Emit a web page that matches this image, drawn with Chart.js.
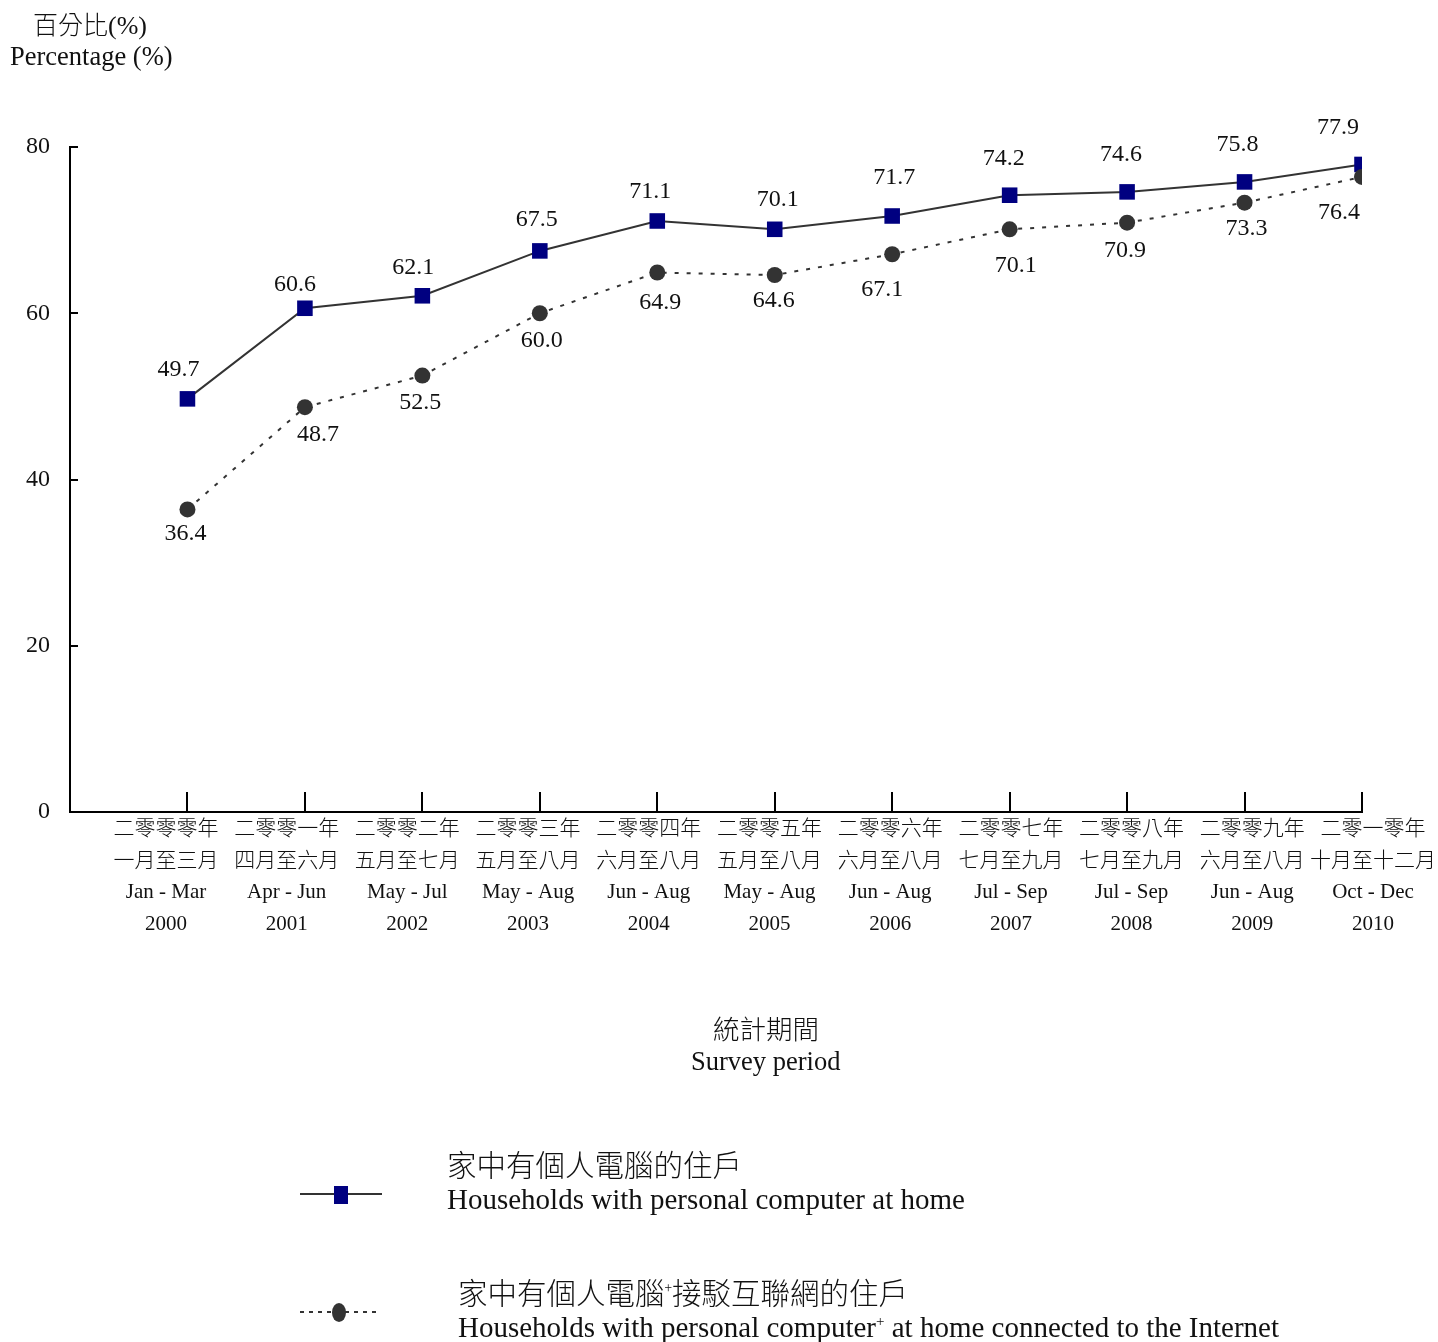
<!DOCTYPE html>
<html>
<head>
<meta charset="utf-8">
<script src="https://cdn.jsdelivr.net/npm/chart.js@4.4.1/dist/chart.umd.min.js"></script>
<style>
  body { margin: 0; background: #fff; }
  #wrap { position: relative; width: 1438px; height: 1342px; overflow: hidden; font-family: "Liberation Serif", "Noto Sans CJK TC", serif; color: #111; }
  #grafico { position: absolute; left: 0; top: 0; }
  .txt { position: absolute; white-space: nowrap; line-height: 1; }
  .zh { font-family: "Noto Sans CJK TC", sans-serif; font-weight: 300; }
  .pontilhado { position: absolute; height: 2px; background: repeating-linear-gradient(to right, #333 0 4px, transparent 4px 9px); }
</style>
</head>
<body>
<div id="wrap">
  <canvas id="grafico" width="1438" height="1342"></canvas>

  <div class="txt zh" style="left:33px;top:11px;font-size:25px;">百分比<span style="font-family:'Liberation Serif';font-weight:400;font-size:26px;">(%)</span></div>
  <div class="txt" style="left:10px;top:43px;font-size:26.5px;">Percentage (%)</div>

  <div class="txt zh" style="left:713px;top:1015px;font-size:26.5px;">統計期間</div>
  <div class="txt" style="left:691px;top:1048px;font-size:26.5px;">Survey period</div>

  <div style="position:absolute;left:300px;top:1193px;width:82px;height:2px;background:#333;"></div>
  <div style="position:absolute;left:334px;top:1186px;width:14px;height:18px;background:#000080;"></div>
  <div class="txt zh" style="left:447px;top:1149px;font-size:29.5px;">家中有個人電腦的住戶</div>
  <div class="txt" style="left:447px;top:1185px;font-size:29px;">Households with personal computer at home</div>

  <div class="pontilhado" style="left:300px;top:1311px;width:78px;"></div>
  <div style="position:absolute;left:332px;top:1303px;width:14px;height:19px;border-radius:50%;background:#333;"></div>
  <div class="txt zh" style="left:458px;top:1277px;font-size:29.5px;">家中有個人電腦<sup style="font-size:14px;">+</sup>接駁互聯網的住戶</div>
  <div class="txt" style="left:458px;top:1313px;font-size:29px;">Households with personal computer<sup style="font-size:15px;">+</sup> at home connected to the Internet</div>
</div>

<script>
const ctx = document.getElementById('grafico');

    // periodo do levantamento (4 linhas por rotulo)
    let anoZh = ["二零零零年", "二零零一年", "二零零二年", "二零零三年", "二零零四年", "二零零五年", "二零零六年", "二零零七年", "二零零八年", "二零零九年", "二零一零年"]
    let mesesZh = ["一月至三月", "四月至六月", "五月至七月", "五月至八月", "六月至八月", "五月至八月", "六月至八月", "七月至九月", "七月至九月", "六月至八月", "十月至十二月"]
    let mesesEn = ["Jan - Mar", "Apr - Jun", "May - Jul", "May - Aug", "Jun - Aug", "May - Aug", "Jun - Aug", "Jul - Sep", "Jul - Sep", "Jun - Aug", "Oct - Dec"]
    let ano = ["2000", "2001", "2002", "2003", "2004", "2005", "2006", "2007", "2008", "2009", "2010"]

    let comComputador = [49.7, 60.6, 62.1, 67.5, 71.1, 70.1, 71.7, 74.2, 74.6, 75.8, 77.9]
    let comInternet = [36.4, 48.7, 52.5, 60.0, 64.9, 64.6, 67.1, 70.1, 70.9, 73.3, 76.4]
    let yTicks = [0, 20, 40, 60, 80]

    // deslocamento dos rotulos de valor (px)
    let rotulo1 = { dx: [-9, -10, -9, -3, -7, 3, 2, -6, -6, -7, -24], dy: [-29, -24, -28, -31, -29, -30, -38, -37, -37, -37, -37] }
    let rotulo2 = { dx: [-2, 13, -2, 2, 3, -1, -10, 6, -2, 2, -23], dy: [24, 28, 27, 27, 30, 26, 35, 36, 28, 26, 36] }

    const pontos = arr => arr.map((v, i) => ({ x: i + 1, y: v }))

    const marcas = {
        id: 'marcas',
        afterDraw(chart) {
            const c = chart.ctx
            const x = chart.scales.x, y = chart.scales.y
            const area = chart.chartArea
            c.save()
            c.strokeStyle = '#000'
            c.lineWidth = 2
            // tracos do eixo x para dentro
            for (let i = 1; i <= anoZh.length; i++) {
                const px = Math.round(x.getPixelForValue(i))
                c.beginPath(); c.moveTo(px, area.bottom); c.lineTo(px, area.bottom - 20); c.stroke()
            }
            yTicks.forEach(t => {
                if (t === 0) return
                const py = Math.round(y.getPixelForValue(t))
                c.beginPath(); c.moveTo(area.left, py); c.lineTo(area.left + 8, py); c.stroke()
            })
            // rotulos de valor
            c.fillStyle = '#111'
            c.font = '24px "Liberation Serif"'
            c.textAlign = 'center'
            c.textBaseline = 'middle'
            ;[[0, comComputador, rotulo1], [1, comInternet, rotulo2]].forEach(([ds, vals, off]) => {
                const meta = chart.getDatasetMeta(ds)
                meta.data.forEach((p, i) => {
                    c.fillText(vals[i].toFixed(1), p.x + off.dx[i], p.y + off.dy[i])
                })
            })
            c.restore()
        }
    }

    new Chart(ctx, {
        type: 'line',
        data: {
            datasets: [{
                label: 'Households with personal computer at home',
                data: pontos(comComputador),
                borderColor: '#333',
                borderWidth: 2,
                pointStyle: 'rect',
                pointRadius: 11,
                pointBackgroundColor: '#000080',
                pointBorderWidth: 0,
                order: 2
            }, {
                label: 'Households with personal computer at home connected to the Internet',
                data: pontos(comInternet),
                borderColor: '#333',
                borderWidth: 2,
                borderDash: [4, 8],
                pointStyle: 'circle',
                pointRadius: 8,
                pointBackgroundColor: '#333',
                pointBorderWidth: 0,
                order: 1
            }]
        },
        options: {
            responsive: false,
            animation: false,
            devicePixelRatio: 1,
            layout: { padding: { top: 147, right: 76, left: 0, bottom: 0 } },
            plugins: {
                legend: { display: false },
                tooltip: { enabled: false }
            },
            scales: {
                x: {
                    type: 'linear',
                    min: 0,
                    max: 11,
                    afterFit: s => { s.height = 0 },
                    grid: { display: true, drawOnChartArea: false, drawTicks: false },
                    border: { display: true, color: '#000', width: 2 },
                    ticks: { display: false }
                },
                // eixo so para os rotulos, um pouco mais espacado que os tracos
                rotulos: {
                    type: 'linear',
                    position: 'bottom',
                    min: 0.205,
                    max: 10.909,
                    afterFit: s => { s.height = 530 },
                    afterBuildTicks: s => { s.ticks = anoZh.map((_, i) => ({ value: i + 1 })) },
                    grid: { display: false },
                    border: { display: false },
                    ticks: {
                        autoSkip: false,
                        maxRotation: 0,
                        padding: -6,
                        color: '#111',
                        font: { family: '"Liberation Serif", "Noto Sans CJK TC"', size: 21, weight: '300', lineHeight: 1.5 },
                        callback: v => [anoZh[v - 1], mesesZh[v - 1], mesesEn[v - 1], ano[v - 1]]
                    }
                },
                y: {
                    min: 0,
                    max: 80,
                    afterFit: s => { s.width = 70 },
                    afterBuildTicks: s => { s.ticks = yTicks.map(v => ({ value: v })) },
                    grid: { display: true, drawOnChartArea: false, drawTicks: false },
                    border: { display: true, color: '#000', width: 2 },
                    ticks: {
                        padding: 20,
                        color: '#111',
                        font: { family: '"Liberation Serif"', size: 24 }
                    }
                }
            }
        },
        plugins: [marcas]
    });
</script>
</body>
</html>
